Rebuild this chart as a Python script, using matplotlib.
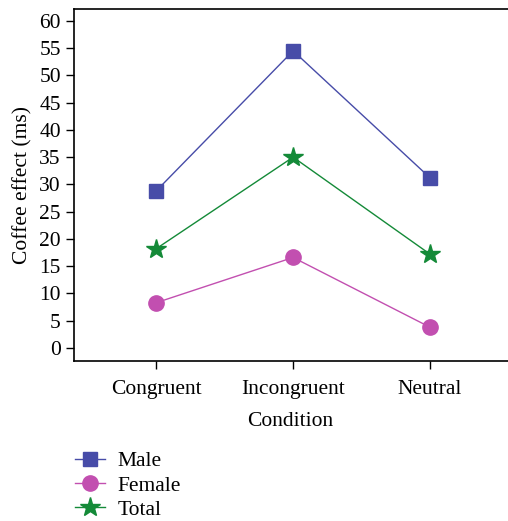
import matplotlib.pyplot as plt

conditions = ["Congruent", "Incongruent", "Neutral"]
male = [28.8, 54.5, 31.2]
female = [8.3, 16.6, 3.8]
total = [18.2, 35.0, 17.2]
yticks = list(range(0, 65, 5))

plt.rcParams['font.family'] = ['Liberation Serif', 'DejaVu Serif']

fig = plt.figure(figsize=(5.08, 5.21), dpi=100)
ax = fig.add_axes([0.1457, 0.307, 0.93, 0.676])

x = range(len(conditions))
ax.plot(x, male, color='#474ca8', lw=1, marker='s', ms=10, label='Male')
ax.plot(x, female, color='#c24fb0', lw=1, marker='o', ms=11, label='Female')
ax.plot(x, total, color='#148a38', lw=1, marker='*', ms=15, label='Total')

ax.set_xlim(-0.6, 2.85)
ax.set_ylim(-2.4, 62.2)
ax.set_yticks(yticks)
ax.set_xticks(list(x))
ax.set_xticklabels(conditions)
ax.spines['right'].set_visible(False)
for s in ['left', 'bottom', 'top']:
    ax.spines[s].set_linewidth(1.2)
ax.tick_params(labelsize=15.5, length=6, width=1)
ax.tick_params(axis='x', pad=8)
ax.set_xlabel('Condition', fontsize=15.5, labelpad=8)
ax.xaxis.set_label_coords(0.458, -0.145)
ax.set_ylabel('Coffee effect (ms)', fontsize=15.5, labelpad=5)

fig.legend(loc='upper left', bbox_to_anchor=(0.148, 0.134), frameon=False,
           fontsize=15.5, handlelength=1.4, handletextpad=0.55, labelspacing=0.2,
           borderaxespad=0, borderpad=0)

fig.savefig('out.png', dpi=100)
